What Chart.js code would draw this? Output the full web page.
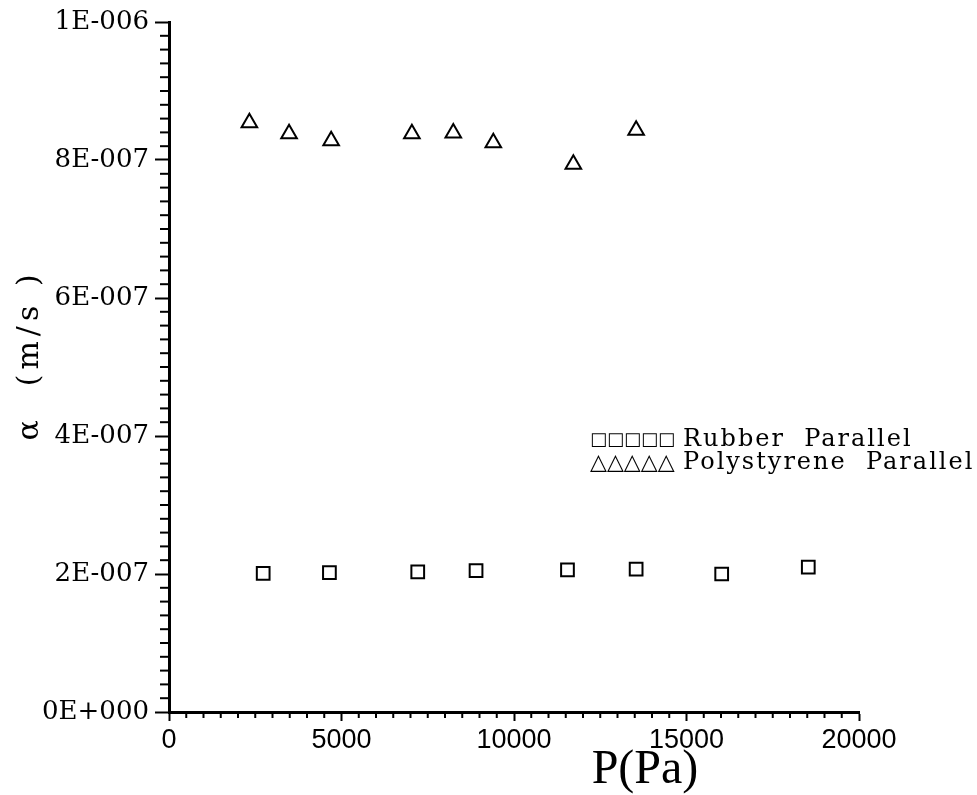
<!DOCTYPE html>
<html>
<head>
<meta charset="utf-8">
<script src="https://cdn.jsdelivr.net/npm/chart.js@4"></script>
<style>
  html, body { margin: 0; padding: 0; background: #ffffff; }
  #c { display: block; }
</style>
</head>
<body>
<canvas id="c" width="977" height="795"></canvas>
<script>
// ---- data ----
const rubberP     = [2730, 4650, 7210, 8900, 11550, 13540, 16020, 18530];
const rubberAlpha = [2.01e-7, 2.02e-7, 2.03e-7, 2.05e-7, 2.06e-7, 2.07e-7, 2.00e-7, 2.10e-7];

const polyP       = [2330, 3480, 4700, 7040, 8240, 9400, 11720, 13540];
const polyAlpha   = [8.54e-7, 8.38e-7, 8.28e-7, 8.38e-7, 8.39e-7, 8.25e-7, 7.94e-7, 8.43e-7];

const seriesLabels = ['Rubber  Parallel', 'Polystyrene  Parallel'];
const legendMarks  = ['\u25A1\u25A1\u25A1\u25A1\u25A1', '\u25B3\u25B3\u25B3\u25B3\u25B3'];
const xTitle = 'P(Pa)';
const yTitle = '\u03B1  (m/s )';
const xTickValues = [0, 5000, 10000, 15000, 20000];
const yTickValues = [0, 2e-7, 4e-7, 6e-7, 8e-7, 1e-6];

function sciLabel(v) {
  if (Math.abs(v) < 1e-15) return '0E+000';
  const e = Math.floor(Math.log10(Math.abs(v)) + 1e-9);
  const m = Math.round(v / Math.pow(10, e) * 100) / 100;
  const sign = e < 0 ? '-' : '+';
  return m + 'E' + sign + String(Math.abs(e)).padStart(3, '0');
}

const toPts = (xs, ys) => xs.map((x, i) => ({ x: x, y: ys[i] }));

const decorations = {
  id: 'decorations',
  afterDraw(chart) {
    const ctx = chart.ctx;
    const xs = chart.scales.x, ys = chart.scales.y;
    const area = chart.chartArea;
    ctx.save();
    ctx.strokeStyle = '#000';
    ctx.lineWidth = 2;
    // minor y ticks
    for (let i = 0; i <= 50; i++) {
      if (i % 10 === 0) continue;
      const py = ys.getPixelForValue(i * 2e-8);
      ctx.beginPath();
      ctx.moveTo(area.left - 9, py);
      ctx.lineTo(area.left, py);
      ctx.stroke();
    }
    // minor x ticks
    for (let i = 0; i <= 40; i++) {
      if (i % 10 === 0) continue;
      const px = xs.getPixelForValue(i * 500);
      ctx.beginPath();
      ctx.moveTo(px, area.bottom);
      ctx.lineTo(px, area.bottom + 6);
      ctx.stroke();
    }
    // axis titles
    ctx.fillStyle = '#000';
    ctx.textAlign = 'center';
    ctx.textBaseline = 'middle';
    ctx.font = '48px "Liberation Serif"';
    ctx.fillText(xTitle, 645, 770);
    ctx.save();
    ctx.translate(30, 355);
    ctx.rotate(-Math.PI / 2);
    ctx.font = '30px "DejaVu Serif"';
    ctx.letterSpacing = '5px';
    ctx.fillText(yTitle, 0, 0);
    ctx.restore();
    // legend
    ctx.textAlign = 'left';
    const rows = [440, 463];
    const markSizes = [18, 22];
    chart.data.datasets.forEach((ds, i) => {
      ctx.font = markSizes[i] + 'px "DejaVu Sans"';
      ctx.letterSpacing = '0px';
      ctx.fillText(legendMarks[i], 590, rows[i]);
      ctx.font = '24px "DejaVu Serif"';
      ctx.letterSpacing = '2px';
      ctx.fillText(ds.label, 683, rows[i]);
    });
    ctx.restore();
  }
};

new Chart(document.getElementById('c'), {
  type: 'scatter',
  data: {
    datasets: [
      {
        label: seriesLabels[0],
        data: toPts(rubberP, rubberAlpha),
        pointStyle: 'rect',
        pointRadius: 9,
        pointHoverRadius: 9,
        borderColor: '#000',
        backgroundColor: 'rgba(0,0,0,0)',
        pointBorderWidth: 2
      },
      {
        label: seriesLabels[1],
        data: toPts(polyP, polyAlpha),
        pointStyle: 'triangle',
        pointRadius: 9,
        pointHoverRadius: 9,
        borderColor: '#000',
        backgroundColor: 'rgba(0,0,0,0)',
        pointBorderWidth: 2
      }
    ]
  },
  options: {
    responsive: false,
    animation: false,
    events: [],
    layout: { padding: { top: 22, right: 118, left: 0, bottom: 0 } },
    plugins: { legend: { display: false }, tooltip: { enabled: false } },
    scales: {
      x: {
        type: 'linear',
        min: 0, max: 20000,
        afterFit(s) { s.height = 83; },
        afterBuildTicks(s) { s.ticks = xTickValues.map(v => ({ value: v })); },
        border: { display: true, color: '#000', width: 3 },
        grid: { drawOnChartArea: false, drawTicks: true, tickLength: 9, color: '#000', tickWidth: 2 },
        ticks: {
          color: '#000',
          font: { family: '"Liberation Sans"', size: 27 },
          padding: 3,
          maxRotation: 0,
          autoSkip: false,
          callback: (v) => String(v)
        }
      },
      y: {
        type: 'linear',
        min: 0, max: 1e-6,
        afterFit(s) { s.width = 169; },
        afterBuildTicks(s) { s.ticks = yTickValues.map(v => ({ value: v })); },
        border: { display: true, color: '#000', width: 3 },
        grid: { drawOnChartArea: false, drawTicks: true, tickLength: 14, color: '#000', tickWidth: 2 },
        ticks: {
          color: '#000',
          font: { family: '"DejaVu Serif"', size: 26 },
          padding: 6,
          autoSkip: false,
          callback: (v) => sciLabel(v)
        }
      }
    }
  },
  plugins: [decorations]
});
</script>
</body>
</html>
